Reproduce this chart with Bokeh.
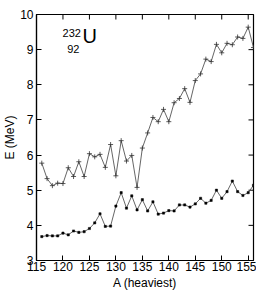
import math
from bokeh.plotting import figure
from bokeh.models import FixedTicker, Range1d, Label
from bokeh.embed import file_html
from bokeh.resources import INLINE

A = list(range(116, 157))
E_upper = [5.77, 5.33, 5.13, 5.20, 5.19, 5.64, 5.39, 5.81, 5.39, 6.04,
           5.95, 6.02, 5.65, 6.30, 5.41, 6.41, 5.83, 5.99, 5.08, 6.20,
           6.63, 7.07, 6.95, 7.30, 6.95, 7.49, 7.61, 7.89, 7.50, 8.12,
           8.31, 8.73, 8.66, 9.15, 8.91, 9.18, 9.14, 9.36, 9.32, 9.64, 9.06]
E_lower = [3.68, 3.71, 3.70, 3.70, 3.78, 3.73, 3.84, 3.80, 3.82, 3.91,
           4.07, 4.33, 3.97, 3.98, 4.55, 4.93, 4.49, 4.84, 4.44, 4.73,
           4.41, 4.67, 4.32, 4.35, 4.42, 4.41, 4.58, 4.58, 4.52, 4.61,
           4.77, 4.63, 4.71, 5.00, 4.77, 4.96, 5.26, 4.96, 4.85, 4.93, 5.14]
x_ticks = [115, 120, 125, 130, 135, 140, 145, 150, 155]
y_ticks = [3, 4, 5, 6, 7, 8, 9, 10]
X_MIN, X_MAX, Y_MIN, Y_MAX = 115, 156, 3, 10
x_title = "A (heaviest)"
y_title = "E (MeV)"

FONT = "Liberation Sans"

p = figure(width=256, height=292, output_backend="svg", toolbar_location=None,
           x_range=Range1d(X_MIN, X_MAX), y_range=Range1d(Y_MIN, Y_MAX),
           min_border_left=36, min_border_right=3, min_border_top=14, min_border_bottom=29)
p.grid.visible = False
p.outline_line_color = "black"
p.outline_line_width = 1.2
p.background_fill_color = "white"
p.border_fill_color = "white"

for ax, ticks in ((p.xaxis[0], x_ticks), (p.yaxis[0], y_ticks)):
    ax.ticker = FixedTicker(ticks=ticks)
    ax.major_tick_in = 5
    ax.major_tick_out = 0
    ax.minor_tick_in = 0
    ax.minor_tick_out = 0
    ax.axis_line_color = "black"
    ax.axis_line_width = 1.2
    ax.major_tick_line_color = "black"
    ax.major_tick_line_width = 1
    ax.major_label_text_font = FONT
    ax.major_label_text_font_size = "12px"
    ax.major_label_text_color = "black"
    ax.major_label_standoff = 3
    ax.axis_label_text_font = FONT
    ax.axis_label_text_font_size = "12px"
    ax.axis_label_text_font_style = "normal"
    ax.axis_label_text_color = "black"

p.xaxis[0].axis_label = x_title
p.xaxis[0].major_label_standoff = 1
p.xaxis[0].axis_label_standoff = 2
p.yaxis[0].axis_label = y_title
p.yaxis[0].axis_label_standoff = 0

p.scatter(x_ticks, [Y_MAX] * len(x_ticks), marker="dash", size=10, angle=math.pi / 2,
          line_color="black", line_width=1)
p.scatter([X_MAX] * len(y_ticks), y_ticks, marker="dash", size=10,
          line_color="black", line_width=1)

p.line(A, E_upper, line_color="#555555", line_width=0.9)
p.scatter(A, E_upper, marker="cross", size=5, line_color="#333333", line_width=0.8)
p.line(A, E_lower, line_color="#555555", line_width=0.9)
p.scatter(A, E_lower, marker="square", size=2.2, fill_color="black", line_color="black",
          line_width=0.5)

p.add_layout(Label(x=123.4, y=9.35, text="232", text_align="right", text_font=FONT,
                   text_font_size="11px", text_color="black"))
p.add_layout(Label(x=123.1, y=8.9, text="92", text_align="right", text_font=FONT,
                   text_font_size="11px", text_color="black"))
p.add_layout(Label(x=123.7, y=9.07, text="U", text_align="left", text_font=FONT,
                   text_font_size="20px", text_color="black"))

open("out.html", "w").write(file_html(p, INLINE))
